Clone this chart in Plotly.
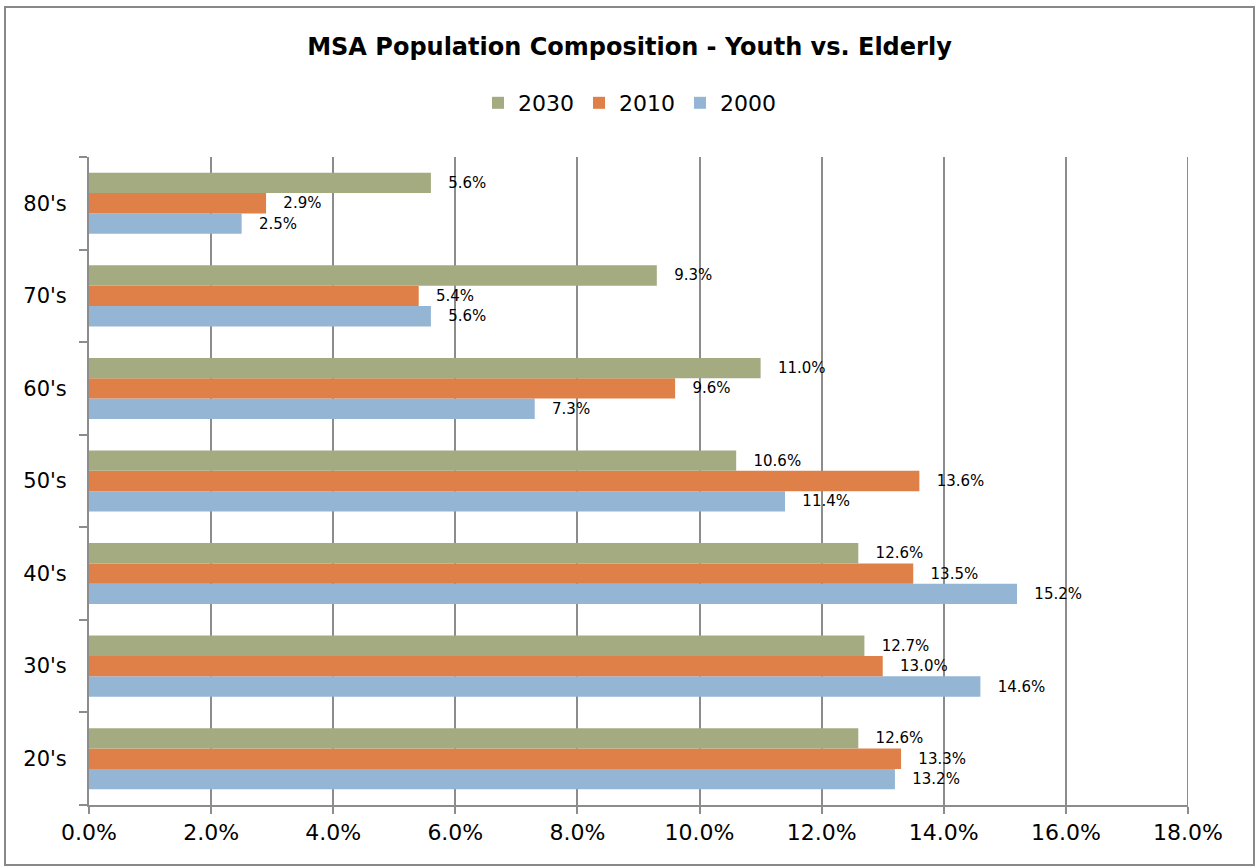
import plotly.graph_objects as go

# Age groups, bottom to top on the category axis
age_groups = ["20's", "30's", "40's", "50's", "60's", "70's", "80's"]

# Share of MSA population (%) by age group
share_2000 = [13.2, 14.6, 15.2, 11.4, 7.3, 5.6, 2.5]
share_2010 = [13.3, 13.0, 13.5, 13.6, 9.6, 5.4, 2.9]
share_2030 = [12.6, 12.7, 12.6, 10.6, 11.0, 9.3, 5.6]

x_tick_values = [0, 2, 4, 6, 8, 10, 12, 14, 16, 18]
x_tick_labels = ["0.0%", "2.0%", "4.0%", "6.0%", "8.0%", "10.0%",
                 "12.0%", "14.0%", "16.0%", "18.0%"]

FONT = "Century Gothic, DejaVu Sans, sans-serif"
GRID = "#8c8c8c"

series = [
    ("2000", share_2000, "#94B6D4"),
    ("2010", share_2010, "#DE8048"),
    ("2030", share_2030, "#A5AB81"),
]

fig = go.Figure()
for name, values, color in series:
    fig.add_trace(go.Bar(
        name=name,
        y=age_groups,
        x=values,
        orientation="h",
        marker=dict(color=color, line=dict(width=0)),
        text=values,
        texttemplate="\u00a0\u00a0\u00a0%{x:.1f}%",
        textposition="outside",
        textfont=dict(family=FONT, size=15, color="black"),
        cliponaxis=False,
        hoverinfo="skip",
    ))

fig.update_layout(
    width=1259,
    height=867,
    margin=dict(l=89, r=71, t=157, b=62),
    paper_bgcolor="white",
    plot_bgcolor="white",
    barmode="group",
    bargap=0.34,
    bargroupgap=0,
    font=dict(family=FONT, color="black"),
    title=dict(
        text="<b>MSA Population Composition - Youth vs. Elderly</b>",
        x=0.5, xanchor="center",
        y=1 - 47 / 867, yanchor="middle",
        font=dict(family=FONT, size=24, color="black"),
    ),
    legend=dict(
        orientation="h",
        traceorder="reversed",
        x=0.5, xanchor="center",
        xref="container",
        y=1 - 103 / 867, yanchor="middle",
        yref="container",
        font=dict(family=FONT, size=22, color="black"),
        itemwidth=30,
    ),
    xaxis=dict(
        range=[0, 18],
        tickvals=x_tick_values,
        ticktext=x_tick_labels,
        tickfont=dict(family=FONT, size=22, color="black"),
        showgrid=True,
        gridcolor=GRID,
        gridwidth=2,
        zeroline=False,
        showline=True,
        linecolor=GRID,
        linewidth=2,
        ticks="outside",
        ticklen=7,
        tickwidth=2,
        tickcolor=GRID,
        fixedrange=True,
    ),
    yaxis=dict(
        type="category",
        categoryorder="array",
        categoryarray=age_groups,
        tickfont=dict(family=FONT, size=21, color="black"),
        showgrid=False,
        zeroline=False,
        showline=True,
        linecolor=GRID,
        linewidth=2,
        ticks="outside",
        tickson="boundaries",
        ticklen=8,
        tickwidth=2,
        tickcolor=GRID,
        ticklabelstandoff=16,
        fixedrange=True,
    ),
    shapes=[
        # gridline at the right end of the value axis
        dict(
            type="line",
            xref="x", yref="paper",
            x0=18, x1=18, y0=0, y1=1,
            line=dict(color=GRID, width=2),
            layer="below",
        ),
        # outer chart frame
        dict(
            type="rect",
            xref="paper", yref="paper",
            x0=-84 / 1099, x1=1165 / 1099,
            y0=-60 / 648, y1=798 / 648,
            line=dict(color="#888888", width=2),
            fillcolor="rgba(0,0,0,0)",
            layer="below",
        ),
    ],
)

fig.write_html("out.html")
